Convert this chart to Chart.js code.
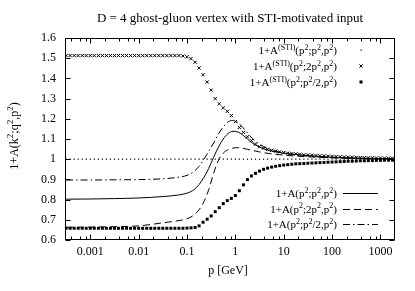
<!DOCTYPE html>
<html><head><meta charset="utf-8">
<script src="https://cdn.jsdelivr.net/npm/chart.js@4/dist/chart.umd.min.js"></script>
<style>html,body{margin:0;padding:0;background:#fff}</style>
</head><body>
<canvas id="c" width="415" height="291"></canvas>
<script>
// ---------- data ----------
const titleText = 'D = 4 ghost-gluon vertex with STI-motivated input';
const xAxisTitle = 'p [GeV]';
const yAxisTitle = '1+A(k^{2};q^{2},p^{2})';

const xTickValues = [0.001, 0.01, 0.1, 1, 10, 100, 1000];
const xTickLabels = ['0.001', '0.01', '0.1', '1', '10', '100', '1000'];
const yTickValues = [0.6, 0.7, 0.8, 0.9, 1.0, 1.1, 1.2, 1.3, 1.4, 1.5, 1.6];
const yTickLabels = ['0.6', '0.7', '0.8', '0.9', '1', '1.1', '1.2', '1.3', '1.4', '1.5', '1.6'];

const seriesLabels = [
  '1+A^{(STI)}(p^{2};p^{2},p^{2})',
  '1+A^{(STI)}(p^{2};2p^{2},p^{2})',
  '1+A^{(STI)}(p^{2};p^{2}/2,p^{2})',
  '1+A(p^{2};p^{2},p^{2})',
  '1+A(p^{2};2p^{2},p^{2})',
  '1+A(p^{2};p^{2}/2,p^{2})'
];

// momenta of the STI-motivated (point) series
const pPoints = [
  0.000316, 0.000383, 0.000464, 0.000562, 0.000681, 0.000825,
  0.00100, 0.00121, 0.00147, 0.00178, 0.00215, 0.00261, 0.00316, 0.00383, 0.00464, 0.00562, 0.00681, 0.00825,
  0.0100, 0.0121, 0.0147, 0.0178, 0.0215, 0.0261, 0.0316, 0.0383, 0.0464, 0.0562, 0.0681, 0.0825,
  0.100, 0.121, 0.147, 0.178, 0.215, 0.261, 0.316, 0.383, 0.464, 0.562, 0.681, 0.825,
  1.00, 1.21, 1.47, 1.78, 2.15, 2.61, 3.16, 3.83, 4.64, 5.62, 6.81, 8.25,
  10.0, 12.1, 14.7, 17.8, 21.5, 26.1, 31.6, 38.3, 46.4, 56.2, 68.1, 82.5,
  100, 121, 147, 178, 215, 261, 316, 383, 464, 562, 681, 825,
  1000, 1210, 1470, 1780
];
const aStiSym = [
  1, 1, 1, 1, 1, 1,
  1, 1, 1, 1, 1, 1, 1, 1, 1, 1, 1, 1,
  1, 1, 1, 1, 1, 1, 1, 1, 1, 1, 1, 1,
  1, 1, 1, 1, 1, 1, 1, 1, 1, 1, 1, 1,
  1, 1, 1, 1, 1, 1, 1, 1, 1, 1, 1, 1,
  1, 1, 1, 1, 1, 1, 1, 1, 1, 1, 1, 1,
  1, 1, 1, 1, 1, 1, 1, 1, 1, 1, 1, 1,
  1, 1, 1, 1
];
const aSti2p = [
  1.513, 1.513, 1.513, 1.513, 1.513, 1.513,
  1.513, 1.513, 1.513, 1.513, 1.513, 1.513, 1.513, 1.513, 1.513, 1.513, 1.513, 1.513,
  1.513, 1.513, 1.513, 1.513, 1.513, 1.513, 1.513, 1.513, 1.513, 1.513, 1.513, 1.511,
  1.507, 1.498, 1.480, 1.452, 1.418, 1.382, 1.342, 1.300, 1.274, 1.254, 1.237, 1.216,
  1.186, 1.157, 1.133, 1.111, 1.092, 1.075, 1.062, 1.055, 1.049, 1.044, 1.040, 1.036,
  1.033, 1.030, 1.028, 1.026, 1.024, 1.022, 1.021, 1.020, 1.018, 1.017, 1.016, 1.015,
  1.014, 1.013, 1.012, 1.011, 1.010, 1.010, 1.009, 1.008, 1.008, 1.007, 1.007, 1.006,
  1.006, 1.005, 1.005, 1.005
];
const aStiHalf = [
  0.658, 0.658, 0.658, 0.658, 0.658, 0.658,
  0.658, 0.658, 0.658, 0.658, 0.658, 0.658, 0.658, 0.658, 0.658, 0.658, 0.658, 0.658,
  0.658, 0.658, 0.658, 0.658, 0.658, 0.658, 0.658, 0.658, 0.658, 0.658, 0.658, 0.658,
  0.659, 0.660, 0.662, 0.670, 0.688, 0.703, 0.719, 0.740, 0.760, 0.780, 0.795, 0.806,
  0.820, 0.844, 0.873, 0.899, 0.917, 0.930, 0.941, 0.950, 0.956, 0.961, 0.965, 0.968,
  0.971, 0.973, 0.975, 0.977, 0.978, 0.979, 0.980, 0.981, 0.982, 0.983, 0.984, 0.985,
  0.986, 0.987, 0.988, 0.989, 0.990, 0.990, 0.991, 0.992, 0.992, 0.993, 0.993, 0.994,
  0.994, 0.995, 0.995, 0.995
];

// momenta of the full (line) series
const pLines = [
  0.000316, 0.001, 0.00316, 0.01, 0.0316, 0.0631, 0.1, 0.141, 0.178, 0.224, 0.282, 0.355, 0.447,
  0.562, 0.708, 0.891, 1.122, 1.413, 1.778, 2.239, 3.162, 5.012, 10, 31.62, 100, 316.2, 1778
];
const aSym = [
  0.802, 0.803, 0.805, 0.808, 0.815, 0.822, 0.832, 0.850, 0.875, 0.910, 0.955, 1.010, 1.060,
  1.100, 1.127, 1.138, 1.135, 1.120, 1.100, 1.080, 1.060, 1.043, 1.030, 1.018, 1.010, 1.006, 1.002
];
const a2p = [
  0.663, 0.664, 0.666, 0.670, 0.685, 0.695, 0.705, 0.725, 0.750, 0.790, 0.850, 0.930, 0.995,
  1.030, 1.047, 1.055, 1.057, 1.054, 1.049, 1.044, 1.036, 1.028, 1.020, 1.012, 1.007, 1.004, 1.002
];
const aHalf = [
  0.897, 0.897, 0.898, 0.899, 0.903, 0.910, 0.920, 0.940, 0.965, 1.000, 1.040, 1.080, 1.125,
  1.160, 1.185, 1.192, 1.182, 1.158, 1.130, 1.103, 1.075, 1.050, 1.030, 1.016, 1.008, 1.004, 1.002
];

// ---------- helpers ----------
const FAMILY = '"Liberation Serif", "Times New Roman", serif';
const zip = (xs, ys) => xs.map((x, i) => ({ x: x, y: ys[i] }));

function parseRich(s) {
  const out = [];
  const re = /\^\{([^}]*)\}/g;
  let last = 0, m;
  while ((m = re.exec(s)) !== null) {
    if (m.index > last) out.push([s.slice(last, m.index), false]);
    out.push([m[1], true]);
    last = re.lastIndex;
  }
  if (last < s.length) out.push([s.slice(last), false]);
  return out;
}
function drawRich(ctx, str, x, y, size, align) {
  const supSize = Math.round(size * 0.72);
  const segs = parseRich(str);
  let w = 0;
  const parts = segs.map(([t, sup]) => {
    ctx.font = (sup ? supSize : size) + 'px ' + FAMILY;
    const m = ctx.measureText(t).width;
    w += m;
    return [t, sup, m];
  });
  let cx = align === 'right' ? x - w : (align === 'center' ? x - w / 2 : x);
  ctx.textAlign = 'left';
  ctx.textBaseline = 'alphabetic';
  parts.forEach(([t, sup, m]) => {
    ctx.font = (sup ? supSize : size) + 'px ' + FAMILY;
    ctx.fillText(t, cx, sup ? y - size * 0.4 : y);
    cx += m;
  });
}

const decorPlugin = {
  id: 'decor',
  afterDraw(chart) {
    const ctx = chart.ctx;
    const a = chart.chartArea;
    const xs = chart.scales.x, ys = chart.scales.y;
    ctx.save();
    ctx.strokeStyle = '#000';
    ctx.fillStyle = '#000';
    ctx.lineWidth = 1;
    const L = Math.round(a.left) + 0.5, R = Math.round(a.right) - 0.5;
    const T = Math.round(a.top) + 0.5, B = Math.round(a.bottom) - 0.5;
    ctx.beginPath();
    // x ticks (major + minor), mirrored
    const minorMult = [2, 4, 6, 8];
    for (let e = -4; e <= 3; e++) {
      const dec = Math.pow(10, e);
      minorMult.forEach(mu => {
        const v = dec * mu;
        if (v > xs.min && v < xs.max) {
          const px = Math.round(xs.getPixelForValue(v)) + 0.5;
          ctx.moveTo(px, B); ctx.lineTo(px, B - 3);
          ctx.moveTo(px, T); ctx.lineTo(px, T + 3);
        }
      });
    }
    xTickValues.forEach(v => {
      const px = Math.round(xs.getPixelForValue(v)) + 0.5;
      ctx.moveTo(px, B); ctx.lineTo(px, B - 5);
      ctx.moveTo(px, T); ctx.lineTo(px, T + 5);
    });
    yTickValues.forEach(v => {
      const py = Math.round(ys.getPixelForValue(v)) + 0.5;
      ctx.moveTo(L, py); ctx.lineTo(L + 5, py);
      ctx.moveTo(R, py); ctx.lineTo(R - 5, py);
    });
    ctx.stroke();
    ctx.strokeRect(L, T, R - L, B - T);

    // title
    ctx.font = '13px ' + FAMILY;
    ctx.textAlign = 'center';
    ctx.textBaseline = 'middle';
    ctx.fillText(titleText, 230, 19);
    // x axis title
    ctx.font = '12px ' + FAMILY;
    ctx.fillText(xAxisTitle, 228, 271);
    // y axis title
    ctx.save();
    ctx.translate(18, 136);
    ctx.rotate(-Math.PI / 2);
    drawRich(ctx, yAxisTitle, 0, 0, 12, 'center');
    ctx.restore();

    // key
    const textRight = 337, markX = 361, lineX0 = 343, lineX1 = 378;
    const keyY = [50, 66, 82, 193, 208.5, 224];
    for (let i = 0; i < 6; i++) {
      const y = keyY[i];
      drawRich(ctx, seriesLabels[i], textRight, y + 4, 11, 'right');
      if (i === 0) {
        ctx.fillRect(markX - 0.5, y - 0.5, 1.2, 1.2);
      } else if (i === 1) {
        ctx.beginPath();
        ctx.moveTo(markX - 1.6, y - 1.6); ctx.lineTo(markX + 1.6, y + 1.6);
        ctx.moveTo(markX - 1.6, y + 1.6); ctx.lineTo(markX + 1.6, y - 1.6);
        ctx.stroke();
      } else if (i === 2) {
        ctx.fillRect(markX - 1.5, y - 1.5, 3, 3);
      } else {
        const ds = chart.data.datasets[i];
        ctx.beginPath();
        ctx.setLineDash(ds.borderDash || []);
        ctx.moveTo(lineX0, Math.round(y) + 0.5);
        ctx.lineTo(lineX1, Math.round(y) + 0.5);
        ctx.stroke();
        ctx.setLineDash([]);
      }
    }
    ctx.restore();
  }
};

const tickFont = { family: FAMILY, size: 12 };

new Chart(document.getElementById('c'), {
  type: 'scatter',
  data: {
    datasets: [
      { label: seriesLabels[0], data: zip(pPoints, aStiSym), pointStyle: 'rect', pointRadius: 0.85,
        backgroundColor: '#000', borderColor: '#000', borderWidth: 0, showLine: false },
      { label: seriesLabels[1], data: zip(pPoints, aSti2p), pointStyle: 'crossRot', pointRadius: 2.3,
        borderColor: '#000', borderWidth: 1, showLine: false },
      { label: seriesLabels[2], data: zip(pPoints, aStiHalf), pointStyle: 'rect', pointRadius: 2.1,
        backgroundColor: '#000', borderColor: '#000', borderWidth: 0, showLine: false },
      { label: seriesLabels[3], data: zip(pLines, aSym), showLine: true, pointRadius: 0,
        borderColor: '#000', borderWidth: 1, cubicInterpolationMode: 'monotone' },
      { label: seriesLabels[4], data: zip(pLines, a2p), showLine: true, pointRadius: 0,
        borderColor: '#000', borderWidth: 1, borderDash: [7, 4], cubicInterpolationMode: 'monotone' },
      { label: seriesLabels[5], data: zip(pLines, aHalf), showLine: true, pointRadius: 0,
        borderColor: '#000', borderWidth: 1, borderDash: [7, 3, 1.5, 3], cubicInterpolationMode: 'monotone' }
    ]
  },
  options: {
    responsive: false,
    animation: false,
    devicePixelRatio: 1,
    layout: { padding: { left: 0, right: 20, top: 38, bottom: 0 } },
    plugins: { legend: { display: false }, title: { display: false }, tooltip: { enabled: false } },
    scales: {
      x: {
        type: 'logarithmic', min: 3e-4, max: 2000, position: 'bottom',
        grid: { display: false, drawTicks: false }, border: { display: false },
        ticks: {
          font: tickFont, color: '#000', padding: 5, autoSkip: false, maxRotation: 0,
          callback: (v) => { const i = xTickValues.indexOf(v); return i >= 0 ? xTickLabels[i] : ''; }
        },
        afterBuildTicks: (s) => { s.ticks = xTickValues.map(v => ({ value: v })); },
        afterFit: (s) => { s.height = 51; }
      },
      y: {
        type: 'linear', min: 0.6, max: 1.6,
        grid: { display: false, drawTicks: false }, border: { display: false },
        ticks: {
          font: tickFont, color: '#000', padding: 9,
          callback: (v) => { const i = yTickValues.findIndex(t => Math.abs(t - v) < 1e-6); return i >= 0 ? yTickLabels[i] : ''; }
        },
        afterBuildTicks: (s) => { s.ticks = yTickValues.map(v => ({ value: v })); },
        afterFit: (s) => { s.width = 65; }
      }
    }
  },
  plugins: [decorPlugin]
});
</script>
</body></html>
